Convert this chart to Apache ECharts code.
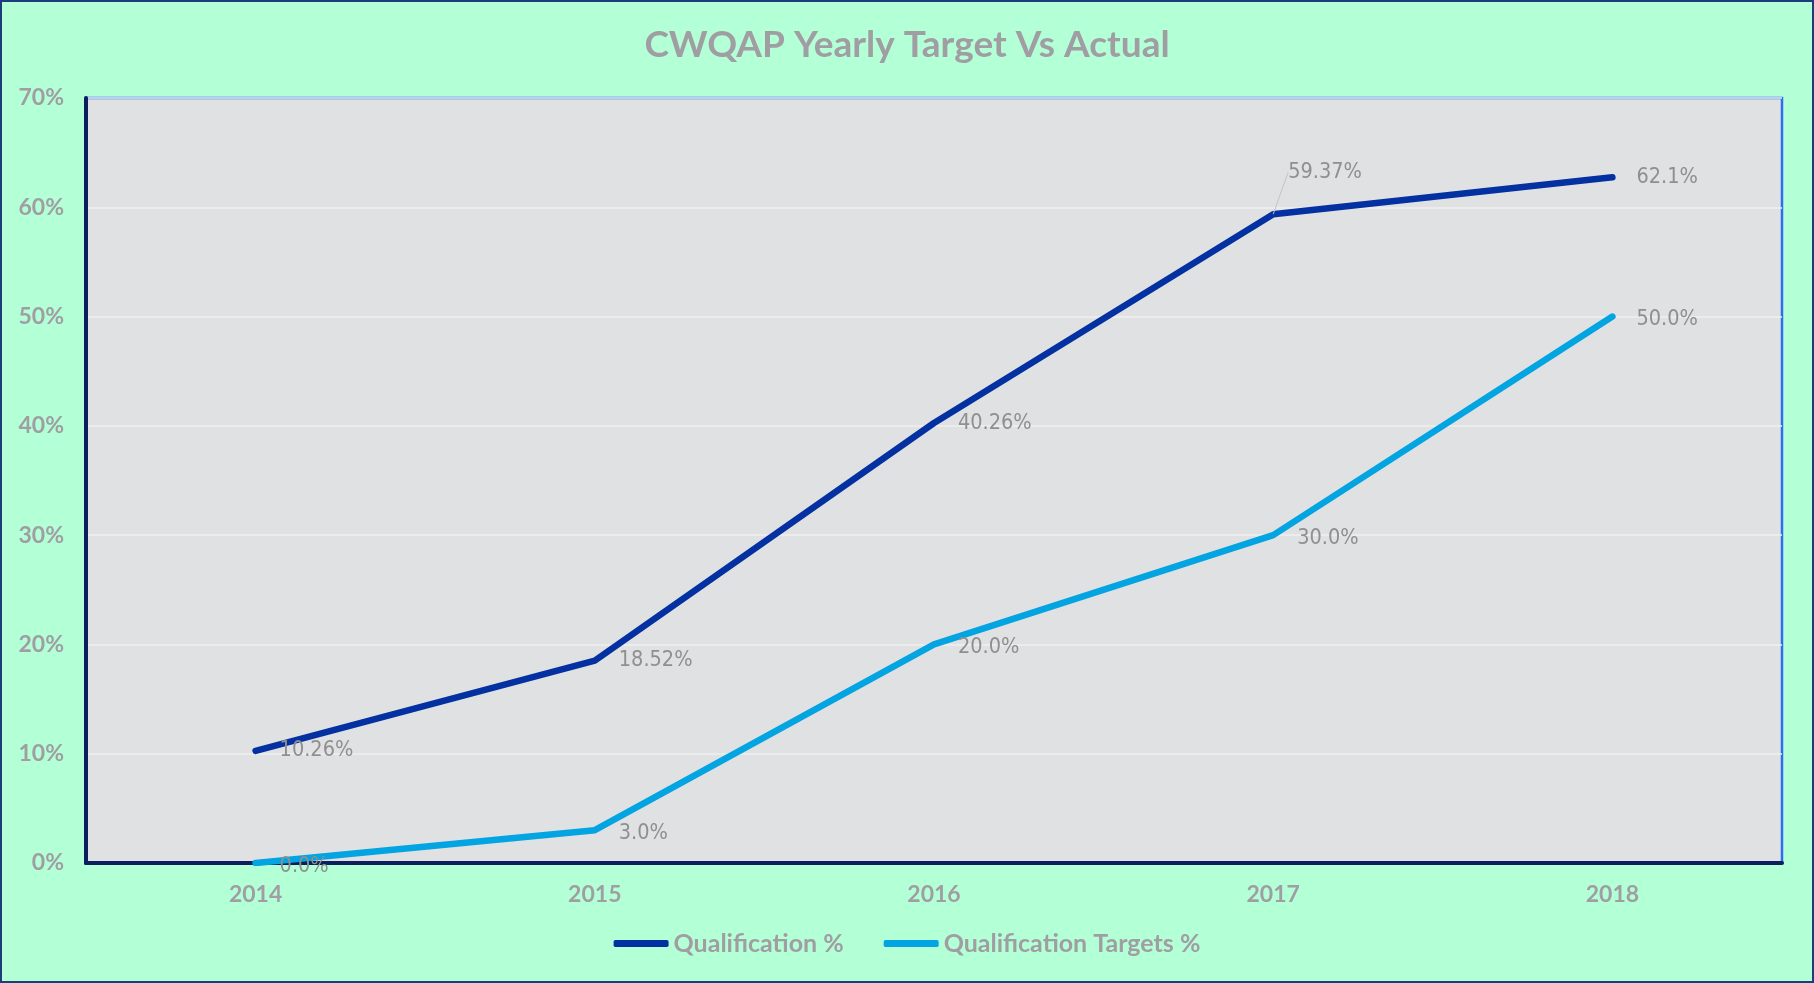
<!DOCTYPE html>
<html><head><meta charset="utf-8">
<script src="https://cdn.jsdelivr.net/npm/echarts@6/dist/echarts.min.js"></script>
<style>
html,body{margin:0;padding:0;background:#b3ffd6;}
#c{width:1814px;height:983px;box-sizing:border-box;border:2px solid #1c3d7a;}
</style></head>
<body><div id="c"></div>
<script>
const years = ['2014','2015','2016','2017','2018'];
const qualification = [10.26, 18.52, 40.26, 59.37, 62.75];
const qualificationLabels = ['10.26%','18.52%','40.26%','59.37%','62.1%'];
const targets = [0, 3, 20, 30, 50];
const targetLabels = ['0.0%','3.0%','20.0%','30.0%','50.0%'];
const yTicks = [0,10,20,30,40,50,60,70];

const chart = echarts.init(document.getElementById('c'));
const grey = '#a09ea3';
const labelGrey = '#8f8f8f';
// the 2017 actual label is moved up with a leader line
const qualData = qualification.map((v, i) => i === 3
  ? {value: v, labelLine: {show: true, lineStyle: {color: '#c4c4c4', width: 1}}}
  : {value: v, labelLine: {show: false}});
chart.setOption({
  backgroundColor: '#b3ffd6',
  title: {
    text: 'CWQAP Yearly Target Vs Actual',
    left: 'center', top: 20,
    textStyle: {fontFamily: 'Lato', fontWeight: 'bold', fontSize: 37, color: grey}
  },
  legend: {
    bottom: 20, left: 'center',
    itemWidth: 55, itemHeight: 7, itemGap: 40,
    icon: 'roundRect',
    textStyle: {fontFamily: 'Lato', fontWeight: 'bold', fontSize: 25, color: grey},
    data: ['Qualification %', 'Qualification Targets %']
  },
  grid: {
    left: 84, right: 30, top: 96, bottom: 118,
    show: true, backgroundColor: '#e0e1e3', borderColor: '#2f6cf5', borderWidth: 2.5
  },
  xAxis: {
    type: 'category', data: years, boundaryGap: true,
    axisLine: {lineStyle: {color: '#0b1f5e', width: 4}},
    axisTick: {show: false},
    axisLabel: {fontFamily: 'Lato', fontWeight: 'bold', fontSize: 23, color: grey, margin: 20}
  },
  yAxis: {
    type: 'value', min: 0, max: 70, interval: 10,
    axisLine: {show: true, lineStyle: {color: '#0b1f5e', width: 4}},
    axisTick: {show: false},
    splitLine: {lineStyle: {color: '#efefef', width: 1.5}},
    axisLabel: {fontFamily: 'Lato', fontWeight: 'bold', fontSize: 23, color: grey, margin: 22,
      formatter: v => yTicks.includes(v) ? v + '%' : ''}
  },
  series: [
    {
      name: 'Qualification %', type: 'line', data: qualData,
      color: '#0431a1',
      lineStyle: {width: 6.5, cap: 'round', join: 'round'},
      symbol: 'circle', symbolSize: 0, showSymbol: true,
      label: {show: true, position: 'right', distance: 24, offset: [0, 3],
        fontFamily: 'DejaVu Sans Condensed', fontSize: 21.5, color: labelGrey,
        formatter: p => qualificationLabels[p.dataIndex]},
      labelLayout: p => p.dataIndex === 3 ? {dx: -9, dy: -42} : {},
      z: 3
    },
    {
      name: 'Qualification Targets %', type: 'line', data: targets,
      color: '#02a4e1',
      lineStyle: {width: 6.5, cap: 'round', join: 'round'},
      symbol: 'circle', symbolSize: 0, showSymbol: true,
      label: {show: true, position: 'right', distance: 24, offset: [0, 3],
        fontFamily: 'DejaVu Sans Condensed', fontSize: 21.5, color: labelGrey,
        formatter: p => targetLabels[p.dataIndex]},
      z: 2
    }
  ]
});
</script></body></html>
